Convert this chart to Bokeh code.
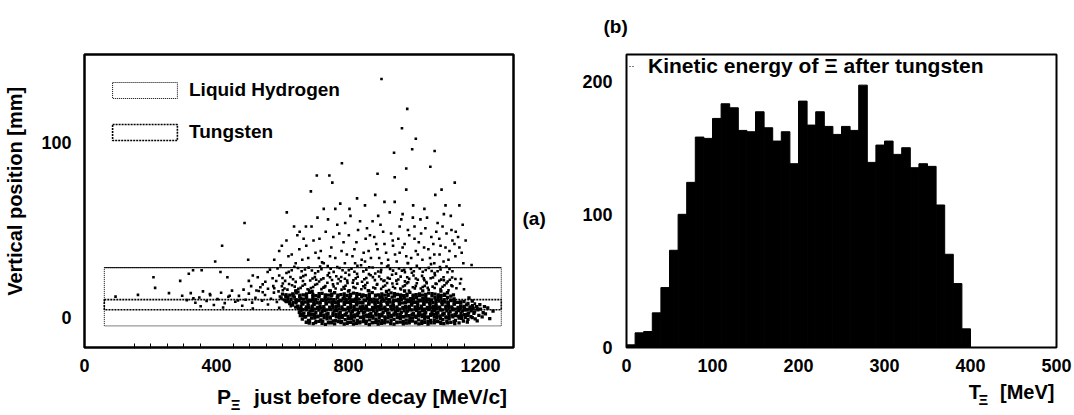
import math
from bokeh.plotting import figure
from bokeh.models import Range1d, FixedTicker, Legend, LegendItem, LinearAxis
from bokeh.layouts import row
from bokeh.embed import file_html
from bokeh.resources import INLINE

FONT = "Liberation Sans"

# ---------------- panel (a): vertical position vs momentum ----------------
p_xi_ticks = [0, 400, 800, 1200]
p_xi_minor = [150, 200, 250, 300, 350, 450, 500, 550, 600, 650, 700, 750,
              850, 900, 950, 1000, 1050, 1100, 1150]
pos_ticks = [0, 100]
target_x = [60, 1263]
hydrogen_y = [-4.7, 28.5]
tungsten_y = [4.5, 10.3]

# decays spread above the target (momentum MeV/c, vertical position mm)
decay_spread = [
    (900, 136), (978, 119), (962, 108), (1004, 102), (993, 96), (1061, 95), (938, 94),
    (780, 88), (975, 85), (1048, 86), (704, 81), (742, 81), (940, 80), (888, 82),
    (751, 77), (1122, 77), (1082, 73), (686, 72), (975, 73), (881, 70), (1063, 70),
    (826, 68), (996, 64), (909, 66), (775, 65), (1094, 64), (1136, 64), (613, 60),
    (725, 62), (803, 62), (964, 59), (1089, 59), (485, 54), (1146, 53), (1125, 49),
    (652, 49), (671, 52), (417, 41), (396, 32), (496, 33), (329, 27), (355, 27),
    (209, 23), (1173, 30), (1141, 22), (1183, 8), (94, 12), (162, 13), (214, 17),
    (256, 14), (290, 21), (316, 25), (412, 26), (433, 23),
    (590, 38), (612, 44), (628, 36), (645, 47), (660, 33), (672, 41), (688, 52), (700, 37),
    (712, 45), (725, 31), (738, 56), (748, 40), (760, 34), (772, 48), (785, 43), (795, 36),
    (806, 58), (818, 39), (829, 50), (840, 33), (852, 45), (861, 38), (873, 55), (884, 42),
    (893, 34), (905, 49), (914, 37), (925, 60), (934, 44), (946, 32), (955, 52), (964, 40),
    (975, 35), (984, 47), (995, 57), (1004, 38), (1013, 43), (1024, 33), (1033, 51), (1042, 39),
    (1051, 46), (1060, 36), (1070, 54), (1079, 41), (1088, 32), (1097, 48), (1106, 38), (1115, 44),
    (1124, 35), (1136, 40), (1148, 31), (710, 34), (820, 31), (900, 31), (980, 31), (1060, 31),
    (640, 31), (760, 62), (850, 64), (940, 66), (1030, 62), (1110, 58), (1000, 52), (935, 41),
    (865, 47), (790, 54), (1075, 45), (1018, 56), (955, 37), (890, 58),
    (575, 33), (598, 41), (618, 35), (635, 52), (651, 39), (664, 45), (678, 34), (694, 44),
    (706, 57), (716, 38), (731, 49), (744, 35), (754, 46), (766, 53), (779, 38), (789, 31),
    (801, 47), (812, 35), (824, 43), (835, 55), (846, 37), (856, 51), (868, 34), (878, 46),
    (888, 39), (897, 53), (909, 42), (920, 33), (929, 48), (941, 36), (951, 45), (960, 56),
    (970, 42), (980, 50), (990, 34), (1000, 45), (1010, 36), (1020, 48), (1029, 40), (1038, 57),
    (1047, 34), (1057, 42), (1066, 49), (1076, 36), (1085, 52), (1094, 40), (1103, 33), (1112, 50),
    (1121, 42), (1132, 46), (1143, 37), (1155, 44),
    (482, 16), (505, 18), (521, 15.5), (540, 19), (556, 16.5), (572, 18), (588, 15), (601, 19.5),
    (615, 16), (629, 18.5), (642, 15.5), (655, 17), (668, 19), (680, 15.8), (693, 17.5), (705, 19.2),
    (718, 16.3), (730, 18), (742, 15.4), (755, 17.8), (767, 19.5), (779, 16), (791, 18.2), (803, 15.6),
    (815, 17.4), (827, 19.4), (839, 16.2), (851, 18.6), (863, 15.3), (875, 17.2), (887, 19.1), (899, 16.4),
    (911, 18.3), (923, 15.7), (935, 17.6), (947, 19.3), (959, 16.1), (971, 18.4), (983, 15.5), (995, 17.3),
    (1007, 19.6), (1019, 16.6), (1031, 18.1), (1043, 15.9), (1055, 17.7), (1067, 19.2), (1079, 16.3),
    (1091, 18.5), (1103, 15.6), (1115, 17.9), (1127, 16.8),
    (575, 16.8), (598, 17.9), (620, 19.2), (648, 16.4), (661, 18.2), (686, 16.9), (699, 18.8), (724, 17.1),
    (736, 19.9), (761, 16.6), (785, 17.5), (797, 19.8), (821, 16.9), (845, 17.9), (857, 19.9), (881, 16.7),
    (905, 17.6), (917, 19.8), (941, 16.8), (965, 17.8), (977, 19.7), (1001, 16.7), (1025, 17.5),
    (1037, 19.6), (1061, 16.9), (1085, 17.6), (1097, 19.7),
    (498, 21), (525, 23), (548, 20.5), (570, 22.5), (590, 24), (608, 21), (624, 23.2), (640, 20.4),
    (655, 22.8), (670, 24.3), (684, 21.2), (698, 23.1), (711, 20.6), (724, 22.4), (737, 24.1), (750, 21.5),
    (763, 23.6), (776, 20.8), (789, 22.2), (802, 24.4), (815, 21.3), (828, 23.3), (841, 20.5), (854, 22.6),
    (867, 24.2), (880, 21.4), (893, 23.5), (906, 20.9), (919, 22.7), (932, 24.5), (945, 21.1), (958, 23.4),
    (971, 20.7), (984, 22.1), (997, 24.0), (1010, 21.6), (1023, 23.8), (1036, 20.3), (1049, 22.5),
    (1062, 24.2), (1075, 21.0), (1088, 23.0), (1101, 20.6), (1114, 22.9),
    (600, 22.6), (632, 21.9), (662, 20.9), (691, 22.3), (717, 21.8), (744, 23.0), (770, 22.0), (796, 21.1),
    (822, 22.4), (848, 21.9), (874, 23.1), (899, 21.9), (925, 22.2), (951, 21.8), (978, 23.0), (1004, 22.3),
    (1030, 21.4), (1056, 22.9), (1081, 21.7), (1107, 21.6),
    (555, 26), (585, 28), (612, 25.5), (636, 29), (658, 26.5), (679, 28.5), (699, 25.3), (718, 27.6),
    (737, 29.4), (755, 26.1), (773, 28.3), (791, 25.6), (809, 27.9), (827, 29.6), (845, 26.4), (863, 28.7),
    (881, 25.2), (899, 27.3), (917, 29.2), (935, 26.8), (953, 28.1), (971, 25.9), (989, 27.7), (1007, 29.5),
    (1025, 26.2), (1043, 28.4), (1061, 25.4), (1079, 27.5), (1097, 29.1), (1115, 26.5), (720, 31.5),
    (850, 32), (980, 31.2), (1050, 30.5),
    (628, 27.0), (668, 27.5), (708, 26.4), (746, 27.9), (782, 27.0), (818, 26.2), (854, 27.4), (890, 26.3),
    (926, 27.8), (962, 26.8), (998, 26.5), (1034, 27.2), (1070, 26.5), (1106, 27.8),
    (510, 24), (533, 17.3), (562, 27.4), (581, 20.9), (594, 29.8), (606, 16.6), (619, 26.1), (637, 17.7),
    (647, 28.3), (663, 23.7), (676, 16.2), (689, 26.9), (702, 21.6), (714, 29.1), (727, 17.4), (741, 25.5),
    (753, 19.0), (766, 28.8), (778, 23.2), (788, 16.5), (801, 27.1), (813, 19.9), (826, 25.0), (838, 29.9),
    (850, 17.0), (862, 24.8), (873, 28.6), (886, 18.8), (898, 25.9), (909, 21.2), (921, 29.7), (933, 19.5),
    (944, 25.1), (957, 16.6), (969, 27.3), (981, 20.2), (992, 25.6), (1004, 18.1), (1016, 28.0),
    (1028, 22.4), (1040, 17.0), (1052, 26.6), (1064, 19.4), (1077, 28.9), (1089, 21.3), (1100, 25.9),
    (1112, 18.4), (1124, 22.0), (1138, 19.5), (1150, 16.2),
    (296, 12.5), (310, 10), (322, 14), (336, 8.5), (348, 11.5), (359, 15), (370, 9.5), (381, 12.8),
    (392, 7.2), (403, 10.6), (414, 14.2), (425, 8.3), (436, 11.9), (447, 15.4), (457, 9.1), (468, 12.4),
    (478, 6.8), (488, 10.2), (498, 13.7), (508, 8.6), (518, 11.3), (528, 15.2), (538, 9.7), (547, 12.9),
    (556, 7.5), (565, 10.8), (574, 14.3), (583, 8.9), (592, 12.1), (601, 15.6), (609, 9.4), (617, 11.7),
    (625, 6.6), (633, 13.4), (641, 10.4), (648, 14.8), (352, 6.5), (420, 5.8), (510, 5.2), (590, 5.6),
    (465, 9.8), (540, 14.5), (610, 13), (330, 11), (380, 13.5), (440, 12.5),
]

# decays inside the dense core, around the tungsten layer
decay_core = [
    (672, -2.6), (693, -3.4), (711, -2.1), (730, -3.8), (748, -2.9), (769, -2.3), (787, -3.6), (806, -2.7),
    (824, -3.2), (845, -2.2), (863, -3.9), (882, -2.8), (900, -3.3), (919, -2.4), (938, -3.7), (957, -2.5),
    (975, -3.1), (994, -2.0), (1013, -3.5), (1031, -2.6), (1050, -3.0), (1070, -2.3), (1089, -3.4),
    (1110, -2.7), (1135, -3.0), (1160, -2.5),
    (681, -3.1), (700, -2.8), (720, -3.3), (739, -2.9), (758, -3.5), (777, -2.8), (796, -3.2), (815, -3.6),
    (834, -2.9), (853, -3.3), (872, -2.9), (890, -3.6), (909, -3.0), (928, -3.4), (947, -2.8), (966, -3.5),
    (984, -3.0), (1003, -2.9), (1022, -3.3), (1041, -3.7), (1060, -2.9), (1080, -3.2), (1100, -3.0),
    (1122, -3.4),
    (682, -1.9), (702, -2.3), (722, -2.0), (742, -2.5), (761, -1.7), (779, -2.2), (798, -2.6), (816, -1.8),
    (835, -2.4), (854, -2.0), (873, -2.7), (891, -1.9), (910, -2.2), (929, -1.6), (947, -2.5), (966, -2.1),
    (985, -1.8), (1004, -2.6), (1022, -2.0), (1041, -2.3), (1060, -1.7), (1079, -2.5), (1098, -2.0),
    (1120, -2.2), (1148, -1.9),
    (660, -0.8), (679, -1.6), (698, -0.3), (716, -1.2), (735, -0.6), (753, -1.8), (772, -0.2), (790, -1.1),
    (809, -0.7), (827, -1.5), (846, -0.4), (864, -1.3), (883, -0.9), (901, -1.7), (920, -0.1), (938, -1.0),
    (957, -0.5), (975, -1.4), (994, -0.3), (1012, -1.2), (1031, -0.8), (1049, -1.6), (1068, -0.2),
    (1086, -1.1), (1105, -0.6), (1124, -1.5), (1143, -0.4), (1162, -1.0), (1184, -0.7),
    (668, 0.3), (688, -0.2), (707, 0.4), (726, 0.0), (745, -0.3), (763, 0.5), (781, 0.1), (800, -0.4),
    (818, 0.3), (837, 0.0), (856, 0.6), (874, -0.2), (893, 0.2), (911, -0.5), (930, 0.4), (948, 0.0),
    (967, 0.5), (986, -0.3), (1005, 0.2), (1023, 0.6), (1042, -0.1), (1060, 0.3), (1079, -0.4),
    (1097, 0.1), (1116, 0.5), (1135, -0.2), (1154, 0.2), (1175, 0.0),
    (663, 1.0), (679, 1.4), (697, 0.9), (716, 1.2), (735, 0.8), (753, 1.3), (772, 1.0), (790, 1.4),
    (809, 0.8), (827, 1.2), (846, 1.0), (864, 0.7), (883, 1.4), (901, 1.1), (920, 0.8), (938, 1.5),
    (957, 1.0), (975, 0.9), (994, 1.4), (1012, 1.1), (1031, 0.8), (1049, 1.3), (1068, 1.0), (1086, 1.4),
    (1105, 0.9), (1124, 1.2), (1143, 1.0), (1162, 1.3),
    (654, 1.2), (670, 0.6), (688, 1.8), (707, 0.9), (725, 1.5), (744, 0.4), (762, 1.9), (781, 1.1),
    (799, 0.7), (818, 1.6), (836, 0.3), (855, 1.4), (873, 0.8), (892, 1.7), (910, 0.5), (929, 1.3),
    (947, 1.9), (966, 0.6), (984, 1.2), (1003, 0.8), (1021, 1.6), (1040, 0.4), (1058, 1.8), (1077, 1.0),
    (1095, 0.5), (1114, 1.5), (1133, 0.9), (1152, 1.7), (1171, 0.6), (1195, 1.3),
    (660, 2.1), (679, 2.5), (697, 1.9), (716, 2.4), (734, 2.0), (753, 2.6), (771, 2.2), (790, 1.8),
    (808, 2.5), (827, 2.1), (845, 2.7), (864, 1.9), (882, 2.3), (901, 2.0), (919, 2.6), (938, 2.2),
    (956, 1.8), (975, 2.4), (993, 2.0), (1012, 2.7), (1030, 2.2), (1049, 1.9), (1067, 2.5), (1086, 2.1),
    (1104, 2.4), (1123, 1.9), (1141, 2.3), (1160, 2.0), (1180, 2.5),
    (651, 3.1), (665, 2.6), (683, 3.7), (701, 2.9), (720, 3.4), (738, 2.5), (757, 3.9), (775, 3.0),
    (794, 2.7), (812, 3.6), (831, 2.8), (849, 3.3), (868, 2.5), (886, 3.8), (905, 3.0), (923, 2.6),
    (942, 3.5), (960, 2.9), (979, 3.7), (997, 2.4), (1016, 3.2), (1034, 2.8), (1053, 3.6), (1071, 3.0),
    (1090, 2.5), (1108, 3.4), (1127, 2.9), (1145, 3.8), (1164, 2.7), (1182, 3.3), (1208, 2.8),
    (656, 4.0), (673, 4.4), (691, 3.9), (710, 4.3), (728, 4.1), (747, 4.6), (765, 4.0), (784, 4.4),
    (802, 3.9), (821, 4.5), (839, 4.1), (858, 4.3), (876, 3.9), (895, 4.6), (913, 4.0), (932, 4.4),
    (950, 4.1), (969, 3.9), (987, 4.5), (1006, 4.2), (1024, 4.0), (1043, 4.6), (1061, 4.1), (1080, 4.3),
    (1098, 3.9), (1117, 4.5), (1135, 4.1), (1154, 4.3), (1172, 3.9), (1192, 4.4),
    (655, 5.0), (671, 5.3), (689, 4.9), (707, 5.5), (725, 5.1), (744, 4.8), (762, 5.4), (781, 5.0),
    (799, 5.3), (818, 4.9), (836, 5.5), (855, 5.1), (873, 4.8), (892, 5.4), (910, 5.0), (929, 5.3),
    (947, 4.9), (966, 5.5), (984, 5.1), (1003, 4.8), (1021, 5.4), (1040, 5.0), (1058, 5.3), (1077, 4.9),
    (1095, 5.5), (1114, 5.1), (1132, 4.8), (1151, 5.4), (1170, 5.0), (1190, 5.3),
    (648, 5.2), (662, 4.6), (680, 5.8), (697, 4.9), (716, 5.4), (734, 4.5), (753, 5.9), (771, 5.0),
    (790, 4.7), (808, 5.6), (827, 4.8), (845, 5.3), (864, 4.5), (882, 5.8), (901, 5.0), (919, 4.6),
    (938, 5.5), (956, 4.9), (975, 5.7), (993, 4.4), (1012, 5.2), (1030, 4.8), (1049, 5.6), (1067, 5.0),
    (1086, 4.5), (1104, 5.4), (1123, 4.9), (1141, 5.8), (1160, 4.7), (1178, 5.3), (1200, 4.9), (1222, 5.5),
    (640, 6.0), (656, 6.4), (673, 6.1), (690, 6.5), (707, 5.9), (725, 6.3), (743, 6.0), (762, 6.6),
    (780, 6.2), (799, 5.9), (817, 6.4), (836, 6.1), (854, 6.5), (873, 5.9), (891, 6.3), (910, 6.0),
    (928, 6.6), (947, 6.2), (965, 5.9), (984, 6.4), (1002, 6.1), (1021, 6.5), (1039, 5.9), (1058, 6.3),
    (1076, 6.0), (1095, 6.6), (1113, 6.2), (1132, 5.9), (1150, 6.4), (1168, 6.1), (1188, 6.3),
    (630, 7.2), (646, 6.6), (662, 7.7), (678, 6.9), (696, 7.4), (714, 6.5), (733, 7.9), (751, 7.0),
    (770, 6.7), (788, 7.6), (807, 6.8), (825, 7.3), (844, 6.5), (862, 7.8), (881, 7.0), (899, 6.6),
    (918, 7.5), (936, 6.9), (955, 7.7), (973, 6.4), (992, 7.2), (1010, 6.8), (1029, 7.6), (1047, 7.0),
    (1066, 6.5), (1084, 7.4), (1103, 6.9), (1121, 7.8), (1140, 6.7), (1158, 7.3), (1176, 6.9), (1198, 7.4),
    (622, 8.0), (641, 8.4), (659, 8.1), (677, 8.5), (695, 7.9), (713, 8.3), (732, 8.0), (750, 8.6),
    (769, 8.2), (787, 7.9), (806, 8.4), (824, 8.1), (843, 8.5), (861, 7.9), (880, 8.3), (898, 8.0),
    (917, 8.6), (935, 8.2), (954, 7.9), (972, 8.4), (991, 8.1), (1009, 8.5), (1028, 7.9), (1046, 8.3),
    (1065, 8.0), (1083, 8.6), (1102, 8.2), (1120, 7.9), (1140, 8.4), (1162, 8.1),
    (621, 9.0), (641, 9.3), (659, 8.9), (677, 9.5), (695, 9.1), (714, 8.8), (732, 9.4), (751, 9.0),
    (769, 9.3), (788, 8.9), (806, 9.5), (825, 9.1), (843, 8.8), (862, 9.4), (880, 9.0), (899, 9.3),
    (917, 8.9), (936, 9.5), (954, 9.1), (973, 8.8), (991, 9.4), (1010, 9.0), (1028, 9.3), (1047, 8.9),
    (1065, 9.5), (1084, 9.1), (1102, 8.8), (1121, 9.4), (1140, 9.0),
    (612, 9.1), (632, 8.6), (650, 9.7), (668, 8.9), (686, 9.4), (704, 8.5), (723, 9.9), (741, 9.0),
    (760, 8.7), (778, 9.6), (797, 8.8), (815, 9.3), (834, 8.5), (852, 9.8), (871, 9.0), (889, 8.6),
    (908, 9.5), (926, 8.9), (945, 9.7), (963, 8.4), (982, 9.2), (1000, 8.8), (1019, 9.6), (1037, 9.0),
    (1056, 8.5), (1074, 9.4), (1093, 8.9), (1111, 9.8), (1130, 8.7), (1150, 9.2),
    (606, 10.1), (626, 10.5), (645, 10.2), (664, 10.6), (682, 10.0), (701, 10.4), (719, 10.1), (738, 10.7),
    (756, 10.3), (775, 10.0), (793, 10.5), (812, 10.2), (830, 10.6), (849, 10.0), (867, 10.4), (886, 10.1),
    (904, 10.7), (923, 10.3), (941, 10.0), (960, 10.5), (978, 10.2), (997, 10.6), (1015, 10.0), (1034, 10.4),
    (1052, 10.1), (1071, 10.7), (1090, 10.3), (1110, 10.0),
    (596, 11.2), (616, 10.6), (636, 11.7), (655, 10.9), (673, 11.4), (692, 10.5), (710, 11.9), (729, 11.0),
    (747, 10.7), (766, 11.6), (784, 10.8), (803, 11.3), (821, 10.5), (840, 11.8), (858, 11.0), (877, 10.6),
    (895, 11.5), (914, 10.9), (932, 11.7), (951, 10.4), (969, 11.2), (988, 10.8), (1006, 11.6), (1025, 11.0),
    (1043, 10.5), (1062, 11.4), (1080, 10.9), (1100, 11.6), (1120, 10.7),
    (610, 12.1), (632, 12.5), (652, 12.2), (672, 12.6), (692, 12.0), (711, 12.4), (730, 12.1), (749, 12.7),
    (768, 12.3), (787, 12.0), (806, 12.5), (825, 12.2), (844, 12.6), (863, 12.0), (882, 12.4), (901, 12.1),
    (920, 12.7), (939, 12.3), (958, 12.0), (977, 12.5), (996, 12.2), (1015, 12.6), (1034, 12.0), (1053, 12.4),
    (1072, 12.1), (1091, 12.7), (1110, 12.3),
    (611, 13.0), (631, 13.6), (653, 12.9), (673, 13.5), (692, 13.2), (711, 13.7), (730, 13.0), (749, 13.4),
    (768, 12.9), (787, 13.6), (806, 13.2), (825, 13.7), (844, 13.0), (863, 13.4), (882, 12.9), (901, 13.6),
    (920, 13.2), (939, 13.7), (958, 13.0), (977, 13.4), (996, 12.9), (1015, 13.6), (1034, 13.2), (1053, 13.7),
    (1072, 13.0), (1091, 13.4),
    (600, 13.4), (622, 12.8), (643, 14.1), (663, 13.0), (682, 14.4), (701, 12.6), (720, 13.8), (739, 12.9),
    (758, 14.2), (777, 13.1), (796, 12.7), (815, 14.0), (834, 13.3), (853, 12.5), (872, 14.3), (891, 13.0),
    (910, 12.8), (929, 14.1), (948, 13.2), (967, 12.6), (986, 14.4), (1005, 13.1), (1024, 12.9), (1043, 14.0),
    (1062, 13.4), (1081, 12.7), (1100, 14.2), (1118, 13.0),
    (640, 15.2), (690, 15.0), (745, 15.3), (800, 15.1), (860, 15.4), (915, 15.0), (970, 15.2), (1025, 15.3),
    (1080, 15.1),
    (1190, -1.8), (1205, 0.5), (1215, 2.2), (1228, -0.5), (1175, 9.5), (1165, 11.2), (1212, 6.3), (1238, 3.7),
]
spread_p = [a for a, b in decay_spread]
spread_y = [b for a, b in decay_spread]
core_p = [a for a, b in decay_core]
core_y = [b for a, b in decay_core]

# ---------------- panel (b): kinetic energy histogram ----------------
t_bin_lo = [0, 10, 20, 30, 40, 50, 60, 70, 80, 90, 100, 110, 120, 130, 140, 150, 160, 170, 180, 190,
            200, 210, 220, 230, 240, 250, 260, 270, 280, 290, 300, 310, 320, 330, 340, 350, 360, 370, 380, 390]
t_bin_hi = [10, 20, 30, 40, 50, 60, 70, 80, 90, 100, 110, 120, 130, 140, 150, 160, 170, 180, 190, 200,
            210, 220, 230, 240, 250, 260, 270, 280, 290, 300, 310, 320, 330, 340, 350, 360, 370, 380, 390, 400]
t_counts = [2, 11, 12, 26, 45, 73, 100, 124, 158, 157, 172, 183, 180, 163, 162, 177, 165, 155, 162, 138,
            185, 167, 177, 166, 160, 166, 163, 197, 139, 152, 155, 145, 150, 135, 138, 136, 107, 70, 48, 14]
t_ticks = [0, 100, 200, 300, 400, 500]
count_ticks = [0, 100, 200]


def style_axes(p, size, xstand, ystand):
    for ax, st in ((p.xaxis[0], xstand), (p.yaxis[0], ystand)):
        ax.axis_line_color = None
        ax.major_tick_in = 0
        ax.major_tick_out = 0
        ax.minor_tick_out = 0
        ax.minor_tick_in = 0
        ax.major_label_text_font = FONT
        ax.major_label_text_font_size = size
        ax.major_label_text_font_style = "bold"
        ax.major_label_text_color = "black"
        ax.major_label_standoff = st
    p.xgrid.visible = False
    p.ygrid.visible = False
    p.outline_line_color = "black"
    p.outline_line_alpha = 1.0


def text_axis(p, side, labels, size, standoff, orientation="horizontal"):
    """An axis with no line or ticks whose only labels are the given texts."""
    ax = LinearAxis(ticker=FixedTicker(ticks=list(labels.keys())),
                    major_label_overrides=labels,
                    major_label_orientation=orientation,
                    axis_line_color=None, major_tick_line_color=None, minor_tick_line_color=None,
                    major_tick_in=0, major_tick_out=0, minor_tick_in=0, minor_tick_out=0,
                    major_label_standoff=standoff, major_label_text_font=FONT,
                    major_label_text_font_size=size, major_label_text_font_style="bold",
                    major_label_text_color="black")
    p.add_layout(ax, side)
    return ax


pa = figure(width=560, height=415, x_range=Range1d(0, 1300), y_range=Range1d(-17, 150),
            output_backend="svg", toolbar_location=None,
            min_border_left=84, min_border_right=47, min_border_top=52, min_border_bottom=67)
style_axes(pa, "18px", 11, 13)
pa.outline_line_width = 2.5
pa.xaxis.ticker = FixedTicker(ticks=p_xi_ticks, minor_ticks=p_xi_minor)
pa.xaxis.minor_tick_in = 4
pa.xaxis.minor_tick_line_color = "black"
pa.yaxis.ticker = FixedTicker(ticks=pos_ticks)

h_box = pa.quad(left=[target_x[0]], right=[target_x[1]], bottom=[hydrogen_y[0]], top=[hydrogen_y[1]],
                fill_color=None, line_color="black", line_width=1, line_dash="1 1")
pa.segment(x0=[target_x[0]], y0=[hydrogen_y[1]], x1=[target_x[1]], y1=[hydrogen_y[1]],
           line_color="black", line_width=1)
w_box = pa.quad(left=[target_x[0]], right=[target_x[1]], bottom=[tungsten_y[0]], top=[tungsten_y[1]],
                fill_color=None, line_color="black", line_width=1.6, line_dash="2 1")
pa.scatter(spread_p, spread_y, marker="square", size=2.6, fill_color="black", line_color=None)
pa.scatter(core_p, core_y, marker="square", size=3.3, fill_color="black", line_color=None)

leg_a = Legend(items=[LegendItem(label="Liquid Hydrogen", renderers=[h_box]),
                      LegendItem(label="Tungsten", renderers=[w_box])],
               location=(20, 204), margin=0, padding=0, spacing=20,
               glyph_width=81, glyph_height=20, label_standoff=4,
               label_text_font=FONT, label_text_font_size="19px", label_text_font_style="bold",
               label_text_color="black", border_line_color=None, background_fill_alpha=0)
pa.add_layout(leg_a)

# axis titles of panel (a)
text_axis(pa, "left", {72: "Vertical position [mm]"}, "20px", 12, "parallel")
text_axis(pa, "below", {423: "P", 897: "just before decay [MeV/c]"}, "21px", 10)
text_axis(pa, "below", {458: "Ξ"}, "15px", -15)
text_axis(pa, "right", {56.5: "(a)"}, "19px", 9)

pb = figure(width=514, height=415, x_range=Range1d(0, 500), y_range=Range1d(0, 220),
            output_backend="svg", toolbar_location=None,
            min_border_left=66, min_border_right=18, min_border_top=49, min_border_bottom=67)
style_axes(pb, "18px", 11, 14)
pb.outline_line_width = 2
pb.xaxis.ticker = FixedTicker(ticks=t_ticks)
pb.yaxis.ticker = FixedTicker(ticks=count_ticks)

pb.quad(left=t_bin_lo, right=t_bin_hi, bottom=0, top=t_counts,
        fill_color="black", line_color="black", line_width=1)
marker_r = pb.segment(x0=[0], y0=[0], x1=[0], y1=[0], line_color="black", line_width=1, line_dash="1 2")
leg_b = Legend(items=[LegendItem(label="Kinetic energy of Ξ after tungsten", renderers=[marker_r])],
               location=(3, 269), margin=0, padding=0, glyph_width=6, glyph_height=14,
               label_standoff=13, label_text_font=FONT, label_text_font_size="21px",
               label_text_font_style="bold", label_text_color="black",
               border_line_color=None, background_fill_alpha=0)
pb.add_layout(leg_b)

pb.title.text = "(b)"
pb.title.align = "left"
pb.title.vertical_align = "top"
pb.title.offset = -23
pb.title.standoff = 31
pb.title.text_font = FONT
pb.title.text_font_size = "19px"
pb.title.text_font_style = "bold"
pb.title.text_color = "black"

text_axis(pb, "below", {405: "T", 466: "[MeV]"}, "20px", 6)
text_axis(pb, "below", {415: "Ξ"}, "15px", -15)

layout = row(pa, pb)
open("out.html", "w").write(file_html(layout, INLINE))
